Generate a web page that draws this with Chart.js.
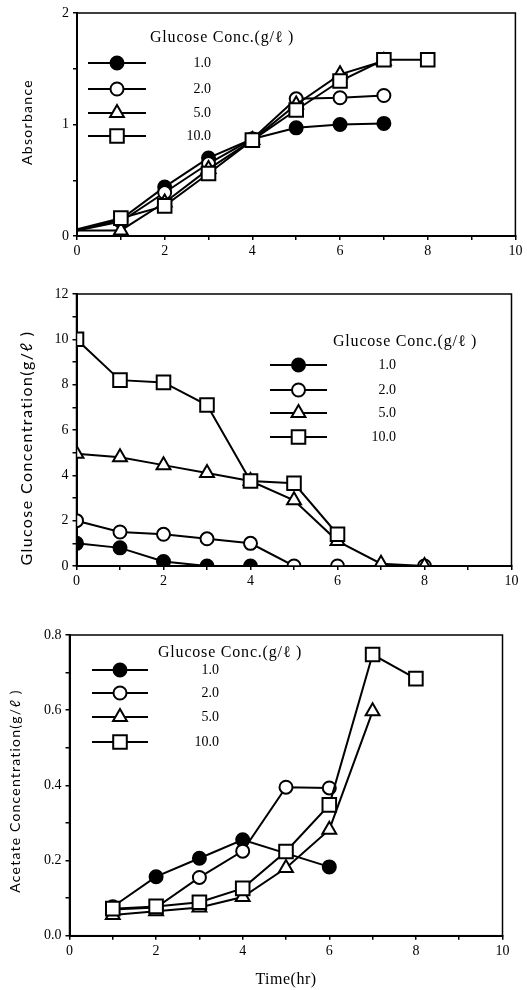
<!DOCTYPE html>
<html>
<head>
<meta charset="utf-8">
<script src="https://cdn.jsdelivr.net/npm/chart.js@4.4.1/dist/chart.umd.min.js"></script>
<style>
  body { margin: 0; background: #fff; width: 527px; height: 990px; overflow: hidden; }
  canvas { position: absolute; left: 0; }
</style>
</head>
<body>
<canvas id="absChart" width="527" height="265" style="top:0px"></canvas>
<canvas id="gluChart" width="527" height="330" style="top:270px"></canvas>
<canvas id="aceChart" width="527" height="390" style="top:600px"></canvas>
<script>
// Glucose feed levels (g/l) used as the series
const concLabels = ['1.0', '2.0', '5.0', '10.0'];

// Absorbance vs time
const absTime1 = [0, 1, 2, 3, 4, 5, 6, 7];
const absTime2 = [0, 1, 2, 3, 4, 5, 6, 7];
const absTime5 = [0, 1, 2, 3, 4, 5, 6, 7];
const absTime10 = [0, 1, 2, 3, 4, 5, 6, 7, 8];
const abs1 = [0.05, 0.15, 0.44, 0.70, 0.87, 0.97, 1.00, 1.01];
const abs2 = [0.05, 0.13, 0.39, 0.65, 0.87, 1.23, 1.24, 1.26];
const abs5 = [0.05, 0.05, 0.30, 0.60, 0.86, 1.18, 1.45, 1.57];
const abs10 = [0.06, 0.16, 0.27, 0.56, 0.86, 1.13, 1.39, 1.58, 1.58];

// Residual glucose vs time
const gluTime1 = [0, 1, 2, 3, 4];
const gluTime2 = [0, 1, 2, 3, 4, 5, 6, 8];
const gluTime5 = [0, 1, 2, 3, 4, 5, 6, 7, 8];
const gluTime10 = [0, 1, 2, 3, 4, 5, 6];
const glu1 = [1.0, 0.8, 0.2, 0, 0];
const glu2 = [2.0, 1.5, 1.4, 1.2, 1.0, 0, 0, 0];
const glu5 = [4.95, 4.8, 4.45, 4.1, 3.75, 2.9, 1.1, 0.1, 0];
const glu10 = [10.0, 8.2, 8.1, 7.1, 3.75, 3.65, 1.4];

// Acetate vs time
const aceTime1 = [1, 2, 3, 4, 6];
const aceTime2 = [1, 2, 3, 4, 5, 6];
const aceTime5 = [1, 2, 3, 4, 5, 6, 7];
const aceTime10 = [1, 2, 3, 4, 5, 6, 7, 8];
const ace1 = [0.077, 0.157, 0.206, 0.255, 0.183];
const ace2 = [0.07, 0.075, 0.155, 0.225, 0.395, 0.393];
const ace5 = [0.055, 0.065, 0.075, 0.103, 0.18, 0.282, 0.597];
const ace10 = [0.072, 0.078, 0.089, 0.126, 0.224, 0.348, 0.748, 0.684];

const SERIF = "'Liberation Serif', 'DejaVu Serif', serif";
const SANS = "Lato, 'Open Sans', sans-serif";

// marker look for each glucose level
const markers = [
  { pointStyle: 'circle', radius: 6.5, fill: '#000' },
  { pointStyle: 'circle', radius: 6.5, fill: '#fff' },
  { pointStyle: 'triangle', radius: 8, fill: '#fff' },
  { pointStyle: 'rect', radius: 9.6, fill: '#fff' }
];

function toPoints(xs, ys) {
  return xs.map((x, i) => ({ x: x, y: ys[i] }));
}

function makeDatasets(times, values, hideStart) {
  return values.map((vals, i) => ({
    label: concLabels[i],
    data: toPoints(times[i], vals),
    borderColor: '#000',
    borderWidth: 2,
    pointStyle: markers[i].pointStyle,
    pointRadius: hideStart ? (c => c.raw.x === 0 ? 0 : markers[i].radius) : markers[i].radius,
    pointBorderWidth: 2,
    pointBorderColor: '#000',
    pointBackgroundColor: markers[i].fill,
    tension: 0,
    order: 4 - i
  }));
}

// same geometry as Chart.js drawPoint for these styles
function drawMarker(ctx, m, x, y) {
  const r = m.radius;
  ctx.beginPath();
  if (m.pointStyle === 'circle') {
    ctx.arc(x, y, r, 0, Math.PI * 2);
  } else if (m.pointStyle === 'triangle') {
    ctx.moveTo(x, y - r);
    ctx.lineTo(x + r * 0.866, y + r * 0.5);
    ctx.lineTo(x - r * 0.866, y + r * 0.5);
  } else {
    const s = r * Math.SQRT1_2;
    ctx.rect(x - s, y - s, 2 * s, 2 * s);
  }
  ctx.closePath();
  ctx.fillStyle = m.fill;
  ctx.fill();
  ctx.lineWidth = 2;
  ctx.strokeStyle = '#000';
  ctx.stroke();
}

// markers sitting on an axis are cut off at the plot edge
const plotClip = {
  id: 'plotClip',
  beforeDatasetsDraw(chart) {
    const a = chart.chartArea;
    chart.ctx.save();
    chart.ctx.beginPath();
    chart.ctx.rect(a.left, a.top, a.right - a.left, a.bottom - a.top);
    chart.ctx.clip();
  },
  afterDatasetsDraw(chart) {
    chart.ctx.restore();
  }
};

// frame, in-plot legend and spaced axis titles
const panelDeco = {
  id: 'panelDeco',
  afterDraw(chart, args, opts) {
    const ctx = chart.ctx;
    const a = chart.chartArea;
    ctx.save();
    ctx.strokeStyle = '#000';
    ctx.lineWidth = 1.5;
    ctx.strokeRect(a.left, a.top, a.right - a.left, a.bottom - a.top);

    const lg = opts.legend;
    ctx.fillStyle = '#000';
    ctx.font = '16px ' + SERIF;
    ctx.letterSpacing = '0.8px';
    ctx.textAlign = 'left';
    ctx.textBaseline = 'middle';
    ctx.fillText('Glucose Conc.(g/\u2113 )', lg.titleX, lg.titleY);
    ctx.letterSpacing = '0px';
    ctx.font = '14px ' + SERIF;
    lg.rows.forEach((ry, i) => {
      ctx.beginPath();
      ctx.moveTo(lg.x0, ry);
      ctx.lineTo(lg.x1, ry);
      ctx.lineWidth = 2;
      ctx.strokeStyle = '#000';
      ctx.stroke();
      drawMarker(ctx, markers[i], (lg.x0 + lg.x1) / 2, ry);
      ctx.fillStyle = '#000';
      ctx.textAlign = 'right';
      ctx.fillText(concLabels[i], lg.labelX, ry);
    });

    const yt = opts.yTitle;
    ctx.translate(yt.x, yt.y);
    ctx.rotate(-Math.PI / 2);
    ctx.font = yt.size + 'px ' + SANS;
    ctx.letterSpacing = yt.spacing + 'px';
    ctx.textAlign = 'center';
    ctx.fillStyle = '#000';
    ctx.fillText(yt.text, 0, 0);
    ctx.restore();

    if (opts.xTitle) {
      const xt = opts.xTitle;
      ctx.save();
      ctx.font = '16px ' + SERIF;
      ctx.letterSpacing = '0.5px';
      ctx.textAlign = 'center';
      ctx.textBaseline = 'middle';
      ctx.fillStyle = '#000';
      ctx.fillText(xt.text, xt.x, xt.y);
      ctx.restore();
    }
  }
};

function xAxis(height) {
  return {
    type: 'linear', min: 0, max: 10,
    border: { color: '#000', width: 2 },
    grid: { drawOnChartArea: false, color: '#000', lineWidth: 1.5, tickLength: 4 },
    ticks: {
      stepSize: 1, autoSkip: false, maxRotation: 0, padding: 3, color: '#000',
      font: { family: SERIF, size: 14 },
      callback: v => (v % 2 === 0 ? String(v) : '')
    },
    afterFit: s => { s.height = height; }
  };
}

function yAxis(min, max, step, width, labelFn) {
  return {
    type: 'linear', min: min, max: max,
    border: { color: '#000', width: 2 },
    grid: { drawOnChartArea: false, color: '#000', lineWidth: 1.5, tickLength: 4 },
    ticks: {
      stepSize: step, autoSkip: false, padding: 4, color: '#000',
      font: { family: SERIF, size: 14 },
      callback: labelFn
    },
    afterFit: s => { s.width = width; }
  };
}

function makeChart(id, datasets, scales, padding, deco) {
  return new Chart(document.getElementById(id), {
    type: 'line',
    data: { datasets: datasets },
    options: {
      responsive: false,
      animation: false,
      layout: { padding: padding },
      plugins: { legend: { display: false }, tooltip: { enabled: false }, panelDeco: deco },
      scales: scales
    },
    plugins: [plotClip, panelDeco]
  });
}

makeChart('absChart',
  makeDatasets([absTime1, absTime2, absTime5, absTime10], [abs1, abs2, abs5, abs10], true),
  {
    x: xAxis(29),
    y: yAxis(0, 2, 0.5, 77, v => (Number.isInteger(v) ? String(v) : ''))
  },
  { top: 13, right: 10, left: 0, bottom: 0 },
  {
    legend: { titleX: 150, titleY: 38, x0: 88, x1: 146, labelX: 211, rows: [63, 89, 113, 136] },
    yTitle: { text: 'Absorbance', x: 27, y: 122, size: 14, spacing: 1.3 }
  });

makeChart('gluChart',
  makeDatasets([gluTime1, gluTime2, gluTime5, gluTime10], [glu1, glu2, glu5, glu10], false),
  {
    x: xAxis(34),
    y: yAxis(0, 12, 1, 76.5, v => (v % 2 === 0 ? String(v) : ''))
  },
  { top: 24, right: 15.5, left: 0, bottom: 0 },
  {
    legend: { titleX: 333, titleY: 72, x0: 270, x1: 327, labelX: 396, rows: [95, 120, 143, 167] },
    yTitle: { text: 'Glucose Concentration(g/\u2113 )', x: 27, y: 178, size: 16, spacing: 1.4 }
  });

makeChart('aceChart',
  makeDatasets([aceTime1, aceTime2, aceTime5, aceTime10], [ace1, ace2, ace5, ace10], false),
  {
    x: xAxis(54.3),
    y: yAxis(0, 0.8, 0.1, 69.5, v => (Math.round(v * 10) % 2 === 0 ? v.toFixed(1) : ''))
  },
  { top: 35, right: 24.5, left: 0, bottom: 0 },
  {
    legend: { titleX: 158, titleY: 53, x0: 92, x1: 148, labelX: 219, rows: [70, 93, 117, 142] },
    yTitle: { text: 'Acetate Concentration(g/\u2113 )', x: 15, y: 191, size: 14, spacing: 1.2 },
    xTitle: { text: 'Time(hr)', x: 286, y: 380 }
  });
</script>
</body>
</html>
